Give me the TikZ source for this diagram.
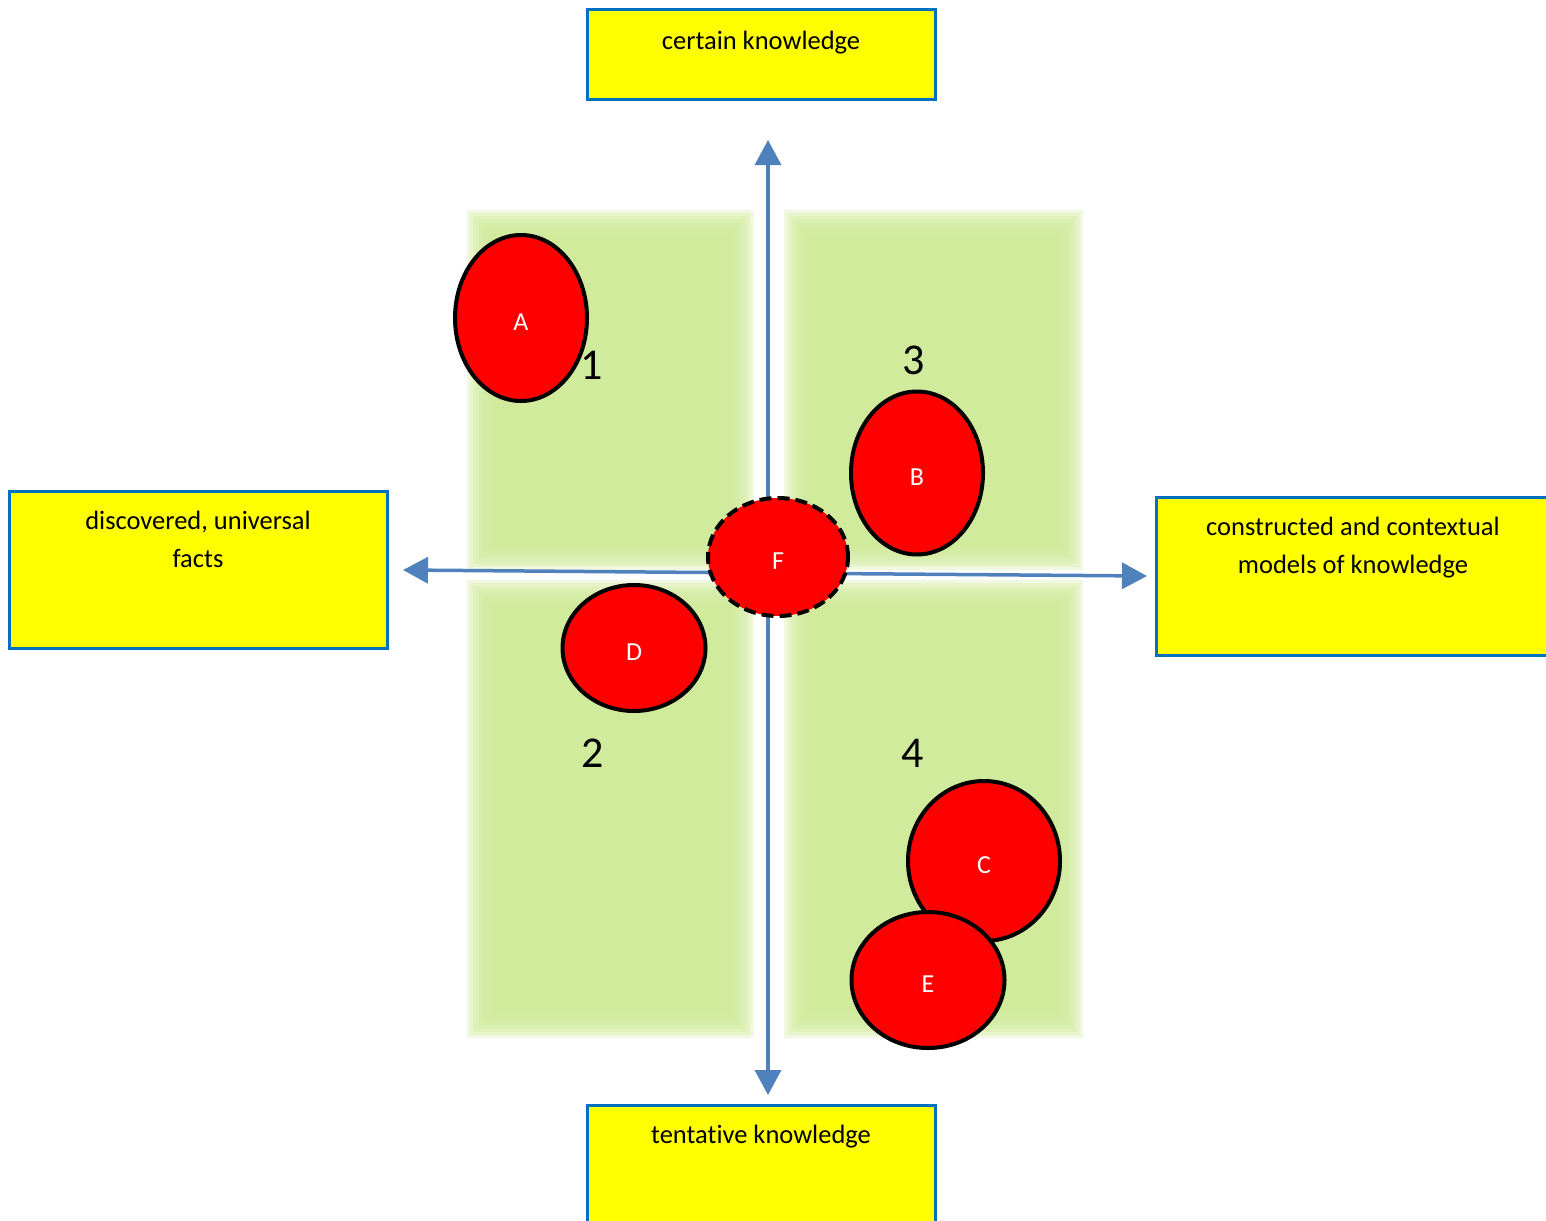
\documentclass[tikz,border=0pt]{standalone}
\usepackage{fontspec}
\setmainfont{Carlito}[Ligatures=NoCommon]
\usetikzlibrary{arrows.meta,shapes.geometric}
\definecolor{boxyellow}{RGB}{255,255,0}
\definecolor{boxblue}{RGB}{0,112,192}
\definecolor{axisblue}{RGB}{79,129,189}
\definecolor{quadgreen}{RGB}{209,235,156}
\definecolor{dotred}{RGB}{255,0,0}
\tikzset{
  kbox/.style={draw=boxblue, fill=boxyellow, line width=3, rectangle, inner sep=0},
  ktext/.style={inner sep=0, align=center, font={\fontsize{26.5}{38}\selectfont}},
  axis/.style={draw=axisblue, line width=3.5, -{Triangle[length=25,width=26]}},
  dot/.style={ellipse, draw=black, fill=dotred, line width=4, inner sep=0,
    text=white, font={\fontsize{26}{30}\selectfont}, text height=25, text depth=0},
  quadnum/.style={inner sep=0, font={\fontsize{44}{50}\selectfont}},
}
% soft-edged quadrant panel: x0 y0 x1 y1
\newcommand\softpanel[4]{%
  \fill[quadgreen] (#1+12,#2+12) rectangle (#3-12,#4-12);
  \foreach \d in {-12,-9,...,12}
    \fill[quadgreen, opacity=0.3] (#1+\d,#2+\d) rectangle (#3-\d,#4-\d);
}
\begin{document}
\begin{tikzpicture}[x=1pt, y=-1pt]
\useasboundingbox (0,0) rectangle (1546,1220);
\clip (0,0) rectangle (1546,1220);
\fill[white] (0,0) rectangle (1546,1220);

% quadrant panels
\softpanel{479}{222}{742}{558}
\softpanel{796}{222}{1071}{558}
\softpanel{479}{592}{742}{1026}
\softpanel{796}{592}{1071}{1026}

% label boxes
\node[kbox, minimum width=348, minimum height=90] (certain) at (761,55) {};
\node[ktext, anchor=north] (certaintext) at (761,31) {certain knowledge};
\node[kbox, minimum width=348, minimum height=130] (tentative) at (761,1170) {};
\node[ktext, anchor=north] (tentativetext) at (761,1125) {tentative knowledge};
\node[kbox, minimum width=378, minimum height=157] (discovered) at (198,569.5) {};
\node[ktext, anchor=north] (discoveredtext) at (198,511) {discovered, universal\\facts};
\node[kbox, minimum width=404, minimum height=158] (constructed) at (1358,576) {};
\node[ktext, anchor=north] (constructedtext) at (1353,517) {constructed and contextual\\models of knowledge};

% axes
\coordinate (O) at (768,573);
\coordinate (upTip) at (768,140);
\coordinate (downTip) at (768,1095);
\coordinate (leftTip) at (403,570);
\coordinate (rightTip) at (1147,576);
\draw[axis] (O) -- (upTip);
\draw[axis] (O) -- (downTip);
\draw[axis] (O) -- (leftTip);
\draw[axis] (O) -- (rightTip);

% ellipses
\node[dot, minimum width=132, minimum height=166] (A) at (521,318) {A};
\node[dot, minimum width=132, minimum height=163] (B) at (917,473) {B};
\node[dot, minimum width=143, minimum height=126] (D) at (634,648) {D};
\node[dot, minimum width=152, minimum height=160] (C) at (984,861) {C};
\node[dot, minimum width=153, minimum height=136] (E) at (928,980) {E};
\node[dot, dash pattern=on 12 off 6, minimum width=140, minimum height=118] (F) at (778,557) {F};

% quadrant numbers
\node[quadnum] (n1) at (592,365) {1};
\node[quadnum] (n3) at (914,360) {3};
\node[quadnum] (n2) at (593,753) {2};
\node[quadnum] (n4) at (913,753) {4};
\end{tikzpicture}
\end{document}
